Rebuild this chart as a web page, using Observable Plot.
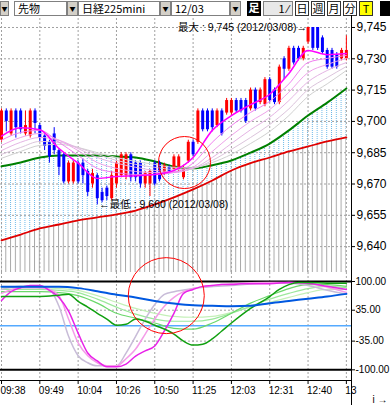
<!DOCTYPE html>
<html><head><meta charset="utf-8">
<script src="https://cdn.jsdelivr.net/npm/d3@7"></script>
<script src="https://cdn.jsdelivr.net/npm/@observablehq/plot@0.6"></script>
<style>
body{margin:0;background:#fff;width:390px;height:405px;overflow:hidden;position:relative;font-family:"Liberation Sans","Noto Sans CJK JP",sans-serif;}
#tb{position:absolute;left:0;top:0;width:390px;height:17px;background:#fff;}
#tb div{position:absolute;top:1px;height:15px;box-sizing:border-box;font-size:11px;line-height:13px;font-family:"Noto Sans CJK JP","Liberation Sans",sans-serif;}
.dd{width:11px;background:#d4d0c8;border:1px solid #808080;font-size:6px!important;text-align:center;line-height:13px!important;}
.fld{background:#fff;border:1px solid #808080;padding-left:3px;}
.blk{width:14px;background:#000;color:#fff;text-align:center;font-weight:bold;}
.box{width:14px;background:#fff;border:1px solid #333;text-align:center;}
#main{position:absolute;left:0;top:18px;}
#osc{position:absolute;left:0;top:272px;}
#vline{position:absolute;left:351px;top:15px;width:1px;height:390px;background:#000;}
</style></head>
<body>
<div id="tb">
 <div class="dd" style="left:0;width:9px">▼</div>
 <div class="fld" style="left:14px;width:53px">先物</div>
 <div class="dd" style="left:67px">▼</div>
 <div class="fld" style="left:78px;width:82px">日経225mini</div>
 <div class="dd" style="left:160px">▼</div>
 <div class="fld" style="left:171px;width:59px">12/03</div>
 <div class="dd" style="left:230px">▼</div>
 <div class="blk" style="left:247px">足</div>
 <div class="fld" style="left:263px;width:30px;background:#e8e8e8;text-align:right;padding-right:3px">1 ⁄</div>
 <div class="box" style="left:295px">日</div>
 <div class="box" style="left:311px">週</div>
 <div class="box" style="left:327px">月</div>
 <div class="box" style="left:343px">分</div>
 <div class="box" style="left:359px;background:#ffff00">T</div>
 <div style="left:380px;width:10px;background:#000"></div>
</div>
<div id="main"></div>
<div id="osc"></div>
<div id="vline"></div>
<script>
// ---------- data ----------
const priceTicks = [9640, 9655, 9670, 9685, 9700, 9715, 9730, 9745];
const oscTicks = [100, 35, -35, -100];
const timeIdx = [0, 8, 16, 24, 32, 40, 48, 56, 64, 72];
const timeLabels = ["09:38","09:49","10:04","10:26","10:50","11:25","12:03","12:31","12:40","13"];

const opens = [9691,9705,9694,9705,9705,9694,9693,9705,9698,9693, 9690,9694,9686,9684,9671,9671,9680,9680,9676,9670,
  9674,9666,9668,9663,9670,9674,9674,9684,9680,9680, 9670,9670,9680,9680,9675,9678,9677,9677,9673,9681,
  9690,9690,9705,9705,9705,9698,9705,9704,9704,9710, 9710,9710,9706,9715,9709,9708,9720,9715,9709,9730,
  9725,9735,9735,9730,9738,9745,9745,9740,9734,9734, 9732,9730,9730];
const highs = [9706,9706,9706,9706,9706,9705,9706,9706,9699,9694, 9691,9697,9687,9685,9681,9681,9681,9682,9677,9677,
  9675,9668,9669,9676,9681,9685,9685,9685,9681,9681, 9676,9677,9681,9681,9680,9679,9684,9684,9679,9691,
  9691,9706,9706,9706,9706,9706,9706,9711,9711,9711, 9711,9711,9716,9716,9716,9721,9721,9716,9727,9731,
  9736,9736,9736,9736,9745,9745,9745,9741,9735,9735, 9733,9735,9741];
const lows = [9690,9695,9693,9692,9694,9693,9692,9694,9690,9686, 9680,9684,9674,9670,9670,9670,9670,9670,9664,9668,
  9660,9661,9662,9662,9668,9673,9672,9671,9671,9668, 9668,9664,9669,9671,9674,9675,9676,9676,9672,9680,
  9683,9689,9695,9695,9695,9697,9693,9703,9703,9704, 9704,9699,9705,9705,9708,9707,9709,9708,9708,9720,
  9724,9727,9729,9729,9737,9734,9734,9732,9725,9725, 9725,9729,9729];
const closes = [9705,9700,9705,9697,9696,9698,9705,9699,9692,9688, 9683,9686,9678,9671,9680,9680,9671,9674,9666,9675,
  9663,9662,9664,9674,9680,9684,9684,9673,9673,9670, 9675,9676,9670,9672,9679,9676,9683,9683,9677,9690,
  9684,9705,9696,9696,9697,9705,9694,9710,9710,9705, 9705,9700,9715,9706,9715,9720,9710,9709,9726,9725,
  9735,9728,9730,9735,9745,9735,9735,9733,9726,9726, 9726,9734,9734];

// moving averages read at every 4th bar
const maIdx = [0,4,8,12,16,20,24,28,32,36,40,44,48,52,56,60,64,68,72];
const ma1 = [9693,9697,9696,9687,9680,9672.7,9673.6,9674,9674.6,9676.5,9682.7,9695.7,9702.8,9708,9713,9723,9734,9732,9732.5];
const ma2 = [9691,9694.7,9695.7,9690,9683.7,9677.5,9675.5,9674.6,9674.6,9675.5,9680,9690,9698,9704.3,9709.6,9718,9728.2,9730.2,9731.6];
const ma3 = [9688.5,9692.3,9694.2,9691,9686,9680.3,9677.5,9676,9675.5,9675.5,9678,9685.6,9693.3,9700,9705.7,9714,9723.4,9727.3,9730.2];
const ma4 = [9686,9690,9692.3,9691,9687,9682.7,9680,9678,9676.5,9676,9677.5,9682.7,9689.4,9696,9702,9710,9719,9724.4,9728.2];
const ma5 = [9684.2,9687.5,9690.4,9690,9687.5,9684.2,9681.3,9679.4,9678,9677,9677.5,9681.3,9686.6,9692.3,9698.5,9706,9715.3,9721,9726.3];
const ma6 = [9682.3,9685.6,9688.5,9689,9687.5,9685,9682.7,9680.8,9679.4,9678,9678,9680.3,9684.2,9689.4,9695.2,9702.8,9712,9718,9724.4];
const maGreen = [9678.5,9680.3,9682.7,9683.7,9683.7,9683.7,9683.2,9682.7,9680.8,9678.4,9677.5,9679,9681.3,9685,9689.4,9695.7,9702.8,9709,9715.8];
const maRed = [9643,9645.8,9648.7,9650.6,9652.6,9654,9655.4,9657.3,9660.2,9663.6,9667.4,9671.7,9676.5,9680,9682.7,9685.6,9688,9690.4,9692.3];

// oscillator lines
const oscBlue = [88,88,88,88,85,78,70,64,56,50,46,45,44,45,51,56,61,66,72];
const oscLG1 = [77,77,77,75,68,51,28,17,6,-6,-8,6,28,51,68,84,93,93,89];
const oscLG2 = [82,82,82,80,75,60,42,26,15,10,10,15,28,44,60,73,84,89,86];
const oscLG3 = [86,86,86,84,80,68,53,39,28,21,19,21,30,42,53,64,75,82,82];
const greenIdx = [0,4,8,12,14,16,18,20,22,24,26,28,30,32,36,38,40,42,44,46,48,52,56,58,60,62,64,68,72];
const oscGreen = [66,66,66,69,71,55,42,28,15,1,3,15,10,1,-19,-35,-44,-42,-30,-12,6,39,66,82,93,98,98,96,96];
const magIdx = [0,2,4,6,8,10,12,14,16,18,20,22,24,26,28,30,32,34,36,38,40,42,44,46,48,50,52,56,60,64,68,72];
const oscMagenta = [57,77,86,91,91,80,64,33,-17,-62,-80,-93,-93,-87,-69,-57,-46,-12,28,73,82,89,91,93,93,95,95,95,98,96,89,82];
const pinkIdx = [0,4,8,10,12,14,16,18,20,22,24,26,28,30,32,34,36,38,40,44,48,56,60,64,68,72];
const oscPink = [73,86,86,82,68,15,-39,-68,-84,-91,-91,-75,-53,-19,15,44,64,77,84,91,95,98,98,96,87,75];
const lavIdx = [0,4,8,10,12,14,16,18,20,24,26,28,30,32,34,36,40,48,56,60,64,68,72];
const oscLav = [82,89,86,82,44,-24,-68,-84,-91,-91,-62,-24,15,48,71,77,84,91,96,96,91,80,71];

// annotations
const hiLabel = {i: 64, v: 9745, text: "最大 : 9,745 (2012/03/08)→"};
const loLabel = {i: 20, v: 9660, text: "←最低 : 9,660 (2012/03/08)"};
const circMain = {i: 38.2, v: 9680.3};
const circOsc = {i: 34.4, v: 68};

// ---------- build ----------
const candles = opens.map((o, i) => ({i, o, h: highs[i], l: lows[i], c: closes[i]}));
const ma = maIdx.map((i, k) => ({i, m1: ma1[k], m2: ma2[k], m3: ma3[k], m4: ma4[k], m5: ma5[k], m6: ma6[k],
  g: maGreen[k], r: maRed[k], ob: oscBlue[k], l1: oscLG1[k], l2: oscLG2[k], l3: oscLG3[k]}));
const rows = (idx, vals) => idx.map((i, k) => ({i, v: vals[k]}));

const xDom = [-0.209, 73.07];
const yMainDom = [9627.6, 9749.31];
const yOscDom = [-124.2, 120.4];
const candleColor = d => d.c >= d.o ? "#ff0000" : "#0000ff";
const curve = "monotone-x";
const grid = {stroke: "#a0a0a0", strokeDasharray: "2,2", strokeWidth: 1};
const annFont = {fontSize: 10.5, fontFamily: "Liberation Sans, Noto Sans CJK JP", fill: "#000"};

const main = Plot.plot({
  width: 390, height: 254, marginLeft: 0, marginRight: 39, marginTop: 0, marginBottom: 0,
  style: {background: "transparent", overflow: "visible", fontFamily: "Liberation Sans", fontSize: "12px", color: "#000"},
  x: {domain: xDom, axis: null},
  y: {domain: yMainDom, axis: "right", ticks: priceTicks, tickFormat: d3.format(","), tickSize: 3, tickPadding: 2},
  marks: [
    Plot.areaY(ma, {x: "i", y1: "r", y2: yMainDom[0], fill: "url(#hatchGray)", curve}),
    Plot.areaY(ma, {x: "i", y1: "r", y2: "g", fill: "url(#hatchBlue)", curve}),
    Plot.ruleY(priceTicks, grid),
    Plot.ruleX(timeIdx, grid),
    Plot.line(ma, {x: "i", y: "r", stroke: "#e00000", strokeWidth: 1.8, curve}),
    Plot.line(ma, {x: "i", y: "g", stroke: "#008000", strokeWidth: 2, curve}),
    Plot.ruleX(candles, {x: "i", y1: "l", y2: "h", stroke: candleColor, strokeWidth: 1}),
    Plot.ruleX(candles, {x: "i", y1: "o", y2: "c", stroke: candleColor, strokeWidth: 3}),
    Plot.line(ma, {x: "i", y: "m6", stroke: "#d0d0d0", strokeWidth: 1, curve}),
    Plot.line(ma, {x: "i", y: "m5", stroke: "#dcc4dc", strokeWidth: 1, curve}),
    Plot.line(ma, {x: "i", y: "m4", stroke: "#e4b4e4", strokeWidth: 1, curve}),
    Plot.line(ma, {x: "i", y: "m3", stroke: "#eea4ea", strokeWidth: 1, curve}),
    Plot.line(ma, {x: "i", y: "m2", stroke: "#f080f0", strokeWidth: 1, curve}),
    Plot.line(ma, {x: "i", y: "m1", stroke: "#ff00ff", strokeWidth: 1.5, curve}),
    Plot.dot([circMain], {x: "i", y: "v", r: 26, stroke: "#ff0000", strokeWidth: 1, fill: "none"}),
    Plot.text([hiLabel], {x: "i", y: "v", text: "text", textAnchor: "end", dx: -1, ...annFont}),
    Plot.text([loLabel], {x: "i", y: "v", text: "text", textAnchor: "start", dx: 2, ...annFont})
  ]
});

const osc = Plot.plot({
  width: 390, height: 133, marginLeft: 0, marginRight: 39, marginTop: 0, marginBottom: 25,
  style: {background: "transparent", overflow: "visible", fontFamily: "Liberation Sans", fontSize: "10px", color: "#000"},
  x: {domain: xDom, ticks: timeIdx, tickFormat: () => "", tickSize: 4},
  y: {domain: yOscDom, axis: "right", ticks: oscTicks, tickFormat: d => d.toFixed(2), tickSize: 3, tickPadding: 1},
  marks: [
    Plot.ruleX(timeIdx, grid),
    Plot.ruleY([35, -35], grid),
    Plot.ruleY([0], {stroke: "#55aaff", strokeWidth: 1.5}),
    Plot.ruleY([100, -100], {stroke: "#000", strokeWidth: 2}),
    Plot.ruleY([yOscDom[0]], {stroke: "#000", strokeWidth: 1}),
    Plot.line(ma, {x: "i", y: "l3", stroke: "#c4f0b8", strokeWidth: 1.2, curve}),
    Plot.line(ma, {x: "i", y: "l2", stroke: "#9ce89c", strokeWidth: 1.2, curve}),
    Plot.line(ma, {x: "i", y: "l1", stroke: "#6cd86c", strokeWidth: 1.2, curve}),
    Plot.line(rows(lavIdx, oscLav), {x: "i", y: "v", stroke: "#c8bcd8", strokeWidth: 1.5, curve}),
    Plot.line(rows(pinkIdx, oscPink), {x: "i", y: "v", stroke: "#f49ce8", strokeWidth: 1.5, curve}),
    Plot.line(rows(magIdx, oscMagenta), {x: "i", y: "v", stroke: "#e822e8", strokeWidth: 1.5, curve}),
    Plot.line(rows(greenIdx, oscGreen), {x: "i", y: "v", stroke: "#10a010", strokeWidth: 1.5, curve}),
    Plot.line(ma, {x: "i", y: "ob", stroke: "#0058e0", strokeWidth: 2, curve}),
    Plot.dot([circOsc], {x: "i", y: "v", r: 38, stroke: "#ff0000", strokeWidth: 1, fill: "none"}),
    Plot.text(timeIdx, {x: d => d, text: (d, k) => timeLabels[k], frameAnchor: "bottom", dy: 13, dx: -1, textAnchor: "start", fontSize: 10, fontFamily: "Liberation Sans", fill: "#000"})
  ]
});

// hatch patterns for the band fills
const defs = d3.select(main).insert("defs", ":first-child");
const pg = defs.append("pattern").attr("id", "hatchGray").attr("patternUnits", "userSpaceOnUse")
  .attr("x", 0.5).attr("y", 0).attr("width", 4.79).attr("height", 2);
pg.append("rect").attr("width", 1).attr("height", 2).attr("fill", "#a8a8a8");
const pb = defs.append("pattern").attr("id", "hatchBlue").attr("patternUnits", "userSpaceOnUse")
  .attr("x", 0.5).attr("y", 0).attr("width", 4.79).attr("height", 2);
pb.append("rect").attr("width", 1).attr("height", 1).attr("fill", "#6ab8e8");

document.getElementById("main").appendChild(main);
document.getElementById("osc").appendChild(osc);
</script>
</body></html>
